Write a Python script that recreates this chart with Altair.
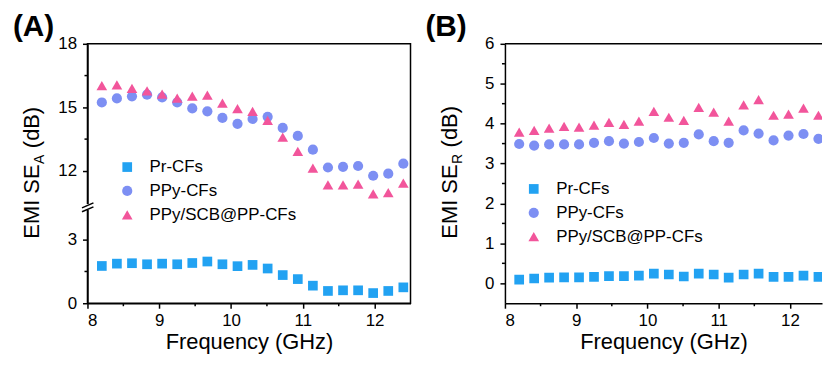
import altair as alt
import pandas as pd

# ---------------- data ----------------
freq = [8.2, 8.41, 8.62, 8.83, 9.04, 9.25, 9.46, 9.67, 9.88, 10.09, 10.3,
        10.51, 10.72, 10.93, 11.14, 11.35, 11.56, 11.77, 11.98, 12.19, 12.4]
series = ["Pr-CFs", "PPy-CFs", "PPy/SCB@PP-CFs"]

sea_pr = [1.76, 1.87, 1.89, 1.84, 1.87, 1.84, 1.90, 1.97, 1.84, 1.75, 1.81,
          1.64, 1.33, 1.14, 0.83, 0.58, 0.61, 0.61, 0.48, 0.58, 0.75]
sea_ppy = [15.23, 15.42, 15.52, 15.60, 15.47, 15.23, 14.95, 14.81, 14.50, 14.22, 14.45,
           14.55, 14.03, 13.65, 13.00, 12.16, 12.19, 12.23, 11.77, 11.87, 12.34]
sea_scb = [16.03, 16.06, 15.90, 15.78, 15.62, 15.44, 15.53, 15.58, 15.20, 14.94, 14.81,
           14.39, 13.59, 12.92, 12.13, 11.34, 11.34, 11.37, 10.91, 10.97, 11.42]

ser_pr = [0.09, 0.12, 0.14, 0.15, 0.15, 0.16, 0.18, 0.18, 0.19, 0.24, 0.22,
          0.17, 0.24, 0.22, 0.14, 0.22, 0.24, 0.16, 0.16, 0.19, 0.16]
ser_ppy = [3.49, 3.45, 3.48, 3.48, 3.48, 3.52, 3.56, 3.50, 3.54, 3.64, 3.50,
           3.52, 3.73, 3.56, 3.52, 3.83, 3.75, 3.58, 3.70, 3.74, 3.62]
ser_scb = [3.79, 3.83, 3.89, 3.93, 3.91, 3.96, 4.03, 3.98, 4.06, 4.31, 4.16,
           4.08, 4.41, 4.29, 4.06, 4.47, 4.60, 4.21, 4.24, 4.39, 4.21]

x_ticks = [8, 9, 10, 11, 12]
x_minor_a = [8.5, 9.5, 10.5, 11.5]
x_minor_b = [8.5, 9.5, 10.5, 11.5]
# panel A uses a broken axis: values above the break are shifted down by BREAK_SHIFT
BREAK_SHIFT = 5.75
ya_ticks = [0, 3, 6.25, 9.25, 12.25]          # shown as 0, 3, 12, 15, 18
ya_minor = [1.5, 7.75, 10.75]                 # 1.5, 13.5, 16.5
yb_ticks = [0, 1, 2, 3, 4, 5, 6]
yb_minor = [0.5, 1.5, 2.5, 3.5, 4.5, 5.5]

colors = ["#22A2F2", "#7D8FF3", "#F2559B"]
shapes = ["square", "circle", "triangle-up"]
sizes = [95, 115, 125]

FONT = "Liberation Sans"
W_A, W_B, H = 325, 319, 261


def long_df(vals):
    rows = []
    for s, v in zip(series, vals):
        for f, y in zip(freq, v):
            rows.append({"f": f, "v": y, "s": s})
    return pd.DataFrame(rows)


df_a = long_df([sea_pr, sea_ppy, sea_scb])
df_b = long_df([ser_pr, ser_ppy, ser_scb])


def legend(lx, ly):
    return alt.Legend(orient="none", legendX=lx, legendY=ly, title=None,
                      labelFontSize=17, labelFont=FONT, labelColor="black",
                      symbolSize=110, rowPadding=6, labelOffset=14, padding=0,
                      symbolStrokeWidth=0)


def enc_common(lx, ly):
    return dict(
        color=alt.Color("s:N", scale=alt.Scale(domain=series, range=colors),
                        legend=legend(lx, ly)),
        shape=alt.Shape("s:N", scale=alt.Scale(domain=series, range=shapes),
                        legend=legend(lx, ly)),
        size=alt.Size("s:N", scale=alt.Scale(domain=series, range=sizes), legend=None),
    )


X_AXIS = alt.Axis(values=x_ticks, title="Frequency (GHz)", format="d",
                  labelPadding=4, titlePadding=4)
YA_AXIS = alt.Axis(
    values=ya_ticks, title=None, labelPadding=6,
    labelExpr=f"datum.value > 5 ? format(datum.value + {BREAK_SHIFT}, 'd') : format(datum.value, 'd')")
YB_AXIS = alt.Axis(values=yb_ticks, title=None, labelPadding=6, format="d")


def ytitle_layers(main, sub, rest):
    base_x = -48.5
    y0 = 196
    fs = 22
    w_main = 3.39 * fs
    sub_w = {"A": 0.667 * 14, "R": 0.722 * 14}[sub]
    space_w = 0.278 * fs
    t1 = alt.Chart(pd.DataFrame({"t": [main]})).mark_text(
        angle=270, align="left", baseline="alphabetic", fontSize=fs, font=FONT,
        color="black").encode(text="t:N", x=alt.value(base_x), y=alt.value(y0))
    t2 = alt.Chart(pd.DataFrame({"t": [sub]})).mark_text(
        angle=270, align="left", baseline="alphabetic", fontSize=14, font=FONT,
        color="black").encode(text="t:N", x=alt.value(base_x + 5),
                               y=alt.value(y0 - w_main - 0.5))
    t3 = alt.Chart(pd.DataFrame({"t": [rest]})).mark_text(
        angle=270, align="left", baseline="alphabetic", fontSize=fs, font=FONT,
        color="black").encode(text="t:N", x=alt.value(base_x),
                               y=alt.value(y0 - w_main - sub_w - 1 - space_w))
    return [t1, t2, t3]


def panel_label(txt, xoff):
    return alt.Chart(pd.DataFrame({"t": [txt]})).mark_text(
        align="left", baseline="top", fontSize=30, fontWeight="bold", font=FONT,
        color="black").encode(text="t:N", x=alt.value(xoff), y=alt.value(-32))


# ---------------- panel A ----------------
xs_a = alt.Scale(domain=[8, 12.5], nice=False, zero=False)
ys_a = alt.Scale(domain=[0, 12.25], nice=False, zero=False)

pts_a = alt.Chart(df_a).transform_calculate(
    yb=f"datum.v > 8 ? datum.v - {BREAK_SHIFT} : datum.v"
).mark_point(filled=True, opacity=1).encode(
    x=alt.X("f:Q", scale=xs_a, axis=X_AXIS),
    y=alt.Y("yb:Q", scale=ys_a, axis=YA_AXIS),
    **enc_common(31.5, 115.5),
)

yminor_a = alt.Chart(pd.DataFrame({"yb": ya_minor})).mark_rule(
    color="black", strokeWidth=1.5).encode(
    y=alt.Y("yb:Q", scale=ys_a, axis=YA_AXIS), x=alt.value(-3), x2=alt.value(0))
xminor_a = alt.Chart(pd.DataFrame({"f": x_minor_a})).mark_rule(
    color="black", strokeWidth=1.5).encode(
    x=alt.X("f:Q", scale=xs_a, axis=X_AXIS), y=alt.value(H), y2=alt.value(H + 3))

gap_a = alt.Chart(pd.DataFrame({"t": [0]})).mark_rule(
    color="white", strokeWidth=4).encode(
    x=alt.value(0), y=alt.value(161.2), y2=alt.value(167.2))
brk1 = alt.Chart(pd.DataFrame({"t": [0]})).mark_rule(
    color="black", strokeWidth=1.5).encode(
    x=alt.value(-5.5), x2=alt.value(6), y=alt.value(165), y2=alt.value(160))
brk2 = alt.Chart(pd.DataFrame({"t": [0]})).mark_rule(
    color="black", strokeWidth=1.5).encode(
    x=alt.value(-5.5), x2=alt.value(6), y=alt.value(169), y2=alt.value(164))

chart_a = alt.layer(
    pts_a, yminor_a, xminor_a, gap_a, brk1, brk2,
    *ytitle_layers("EMI SE", "A", "(dB)"),
    panel_label("(A)", -75),
).properties(width=W_A, height=H)

# ---------------- panel B ----------------
xs_b = alt.Scale(domain=[8, 12.45], nice=False, zero=False)
ys_b = alt.Scale(domain=[-0.5, 6], nice=False, zero=False)

pts_b = alt.Chart(df_b).mark_point(filled=True, opacity=1, clip=True).encode(
    x=alt.X("f:Q", scale=xs_b, axis=X_AXIS),
    y=alt.Y("v:Q", scale=ys_b, axis=YB_AXIS),
    **enc_common(20.5, 137.5),
)
yminor_b = alt.Chart(pd.DataFrame({"v": yb_minor})).mark_rule(
    color="black", strokeWidth=1.5).encode(
    y=alt.Y("v:Q", scale=ys_b, axis=YB_AXIS), x=alt.value(-3), x2=alt.value(0))
xminor_b = alt.Chart(pd.DataFrame({"f": x_minor_b})).mark_rule(
    color="black", strokeWidth=1.5).encode(
    x=alt.X("f:Q", scale=xs_b, axis=X_AXIS), y=alt.value(H), y2=alt.value(H + 3))
top_b = alt.Chart(pd.DataFrame({"t": [0]})).mark_rule(
    color="black", strokeWidth=1.5).encode(
    x=alt.value(0), x2=alt.value(W_B), y=alt.value(0))

chart_b = alt.layer(
    pts_b, yminor_b, xminor_b, top_b,
    *ytitle_layers("EMI SE", "R", "(dB)"),
    panel_label("(B)", -80),
).properties(width=W_B, height=H, view=alt.ViewBackground(stroke="transparent"))

chart = alt.hconcat(chart_a, chart_b, spacing=13).resolve_scale(
    color="independent", shape="independent", size="independent",
    x="independent", y="independent",
).properties(
    padding={"left": 12, "top": 10, "right": 0, "bottom": 0},
    background="white",
).configure(font=FONT).configure_view(
    stroke="black", strokeWidth=1.5
).configure_axis(
    grid=False, domainColor="black", domainWidth=1.5, tickColor="black",
    tickWidth=1.5, tickSize=5, labelFontSize=17, labelFont=FONT,
    labelColor="black", titleFontSize=22, titleFont=FONT,
    titleFontWeight="normal", titleColor="black",
)

chart.save("out.html", embed_options={"renderer": "svg", "actions": False})
